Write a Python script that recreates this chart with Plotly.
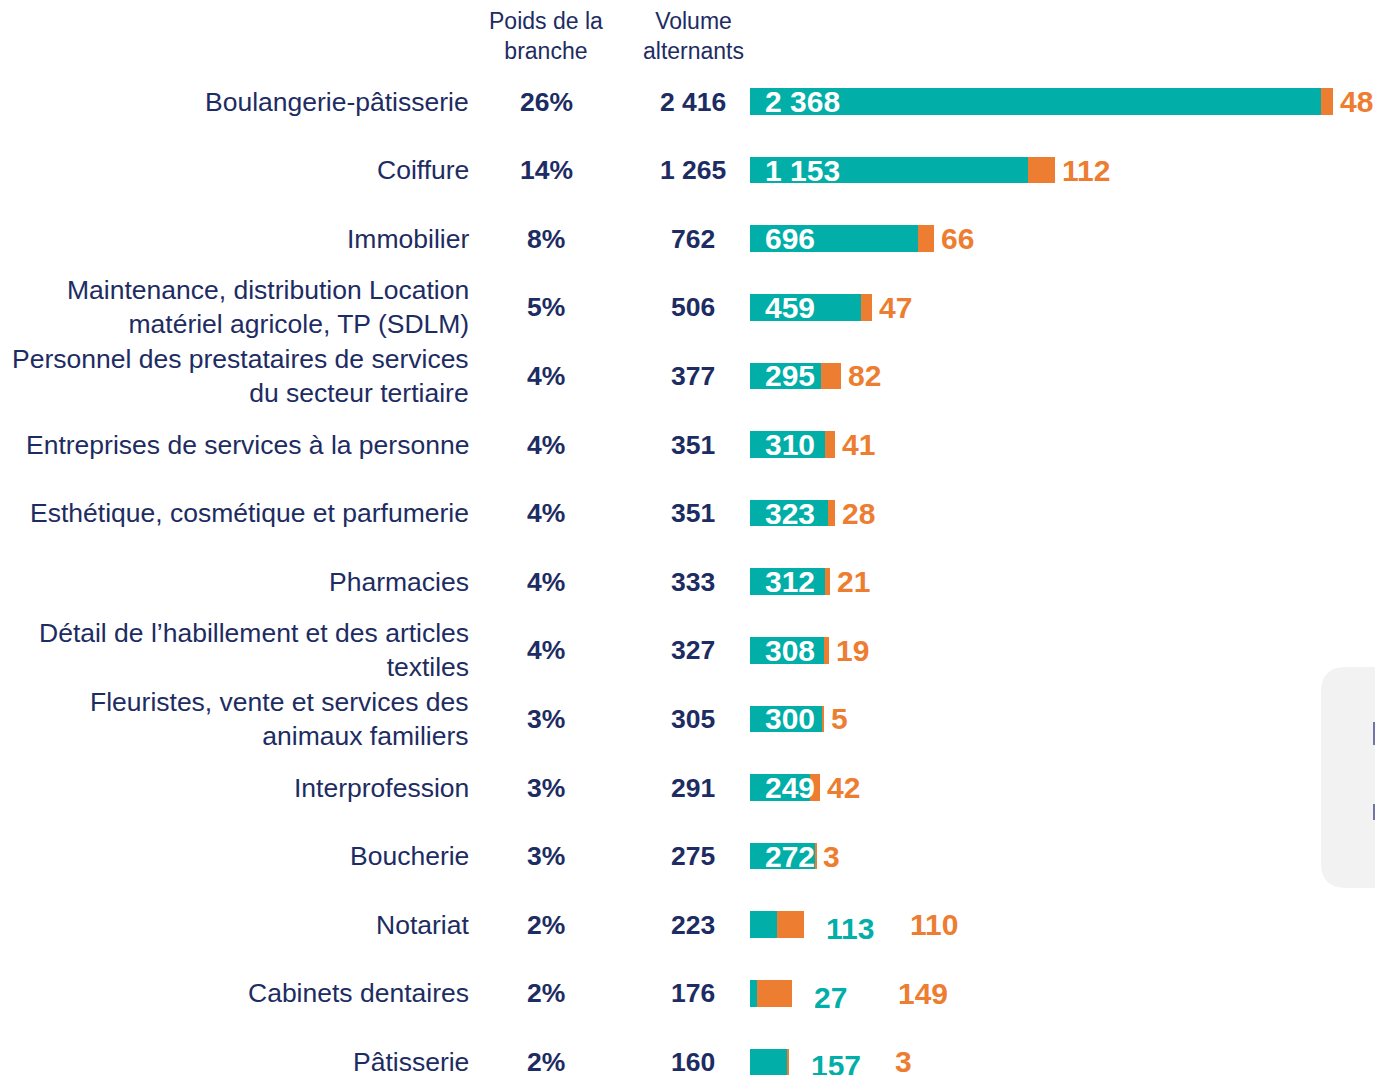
import plotly.graph_objects as go

branches = [
    "Boulangerie-pâtisserie",
    "Coiffure",
    "Immobilier",
    "Maintenance, distribution Location<br>matériel agricole, TP (SDLM)",
    "Personnel des prestataires de services<br>du secteur tertiaire",
    "Entreprises de services à la personne",
    "Esthétique, cosmétique et parfumerie",
    "Pharmacies",
    "Détail de l’habillement et des articles<br>textiles",
    "Fleuristes, vente et services des<br>animaux familiers",
    "Interprofession",
    "Boucherie",
    "Notariat",
    "Cabinets dentaires",
    "Pâtisserie",
]
poids = ["26%", "14%", "8%", "5%", "4%", "4%", "4%", "4%", "4%", "3%", "3%", "3%", "2%", "2%", "2%"]
volume = [2416, 1265, 762, 506, 377, 351, 351, 333, 327, 305, 291, 275, 223, 176, 160]
teal_vals = [2368, 1153, 696, 459, 295, 310, 323, 312, 308, 300, 249, 272, 113, 27, 157]
orange_vals = [48, 112, 66, 47, 82, 41, 28, 21, 19, 5, 42, 3, 110, 149, 3]

TEAL = "#02AEA8"
ORANGE = "#ED7D31"
NAVY = "#1D2C62"
FONT = "Liberation Sans, Arial, sans-serif"


def fmt(v):
    return f"{v:,}".replace(",", " ")


# body margin is removed in the page (post_script below), so figure px == screen px
W, H = 1375, 1075
x0_px = 750
px_per_unit = 0.2412
row0_px = 101.5
row_step = 68.6


def px(sx):
    return sx / W


def py(sy):
    return 1 - sy / H


n = len(branches)
ys = list(range(n))

fig = go.Figure()
fig.add_trace(go.Bar(y=ys, x=teal_vals, orientation="h", marker_color=TEAL,
                     marker_line_width=0, width=0.39, hoverinfo="x"))
fig.add_trace(go.Bar(y=ys, x=orange_vals, orientation="h", marker_color=ORANGE,
                     marker_line_width=0, width=0.39, hoverinfo="x"))

ann = []
# column headers
ann.append(dict(x=px(546), y=py(36), xref="paper", yref="paper", text="Poids de la<br>branche",
                showarrow=False, font=dict(family=FONT, size=23, color=NAVY), xanchor="center", yanchor="middle"))
ann.append(dict(x=px(693), y=py(36), xref="paper", yref="paper", text="Volume<br>alternants",
                showarrow=False, font=dict(family=FONT, size=23, color=NAVY), xanchor="center", yanchor="middle"))

for i in range(n):
    ann.append(dict(x=px(471), y=i, xref="paper", yref="y", text=branches[i], showarrow=False,
                    xanchor="right", yanchor="middle", align="right",
                    font=dict(family=FONT, size=26.5, color=NAVY)))
    ann.append(dict(x=px(546), y=i, xref="paper", yref="y", text=f"<b>{poids[i]}</b>", showarrow=False,
                    xanchor="center", yanchor="middle", font=dict(family=FONT, size=26.5, color=NAVY)))
    ann.append(dict(x=px(693), y=i, xref="paper", yref="y", text=f"<b>{fmt(volume[i])}</b>", showarrow=False,
                    xanchor="center", yanchor="middle", font=dict(family=FONT, size=26.5, color=NAVY)))
    total = teal_vals[i] + orange_vals[i]
    if teal_vals[i] >= 200:
        ann.append(dict(x=0, y=i, xref="x", yref="y", text=f"<b>{fmt(teal_vals[i])}</b>", showarrow=False,
                        xanchor="left", yanchor="middle", xshift=13,
                        font=dict(family=FONT, size=30, color="white")))
        ann.append(dict(x=total, y=i, xref="x", yref="y", text=f"<b>{fmt(orange_vals[i])}</b>", showarrow=False,
                        xanchor="left", yanchor="middle", xshift=5,
                        font=dict(family=FONT, size=30, color=ORANGE)))
    else:
        ann.append(dict(x=total, y=i, xref="x", yref="y", text=f"<b>{fmt(teal_vals[i])}</b>", showarrow=False,
                        xanchor="left", yanchor="middle", xshift=20, yshift=-4,
                        font=dict(family=FONT, size=30, color=TEAL)))
        ann.append(dict(x=total, y=i, xref="x", yref="y", text=f"<b>{fmt(orange_vals[i])}</b>", showarrow=False,
                        xanchor="left", yanchor="middle", xshift=104,
                        font=dict(family=FONT, size=30, color=ORANGE)))

# partially visible legend panel on the right edge
shapes = [
    dict(type="path", xref="paper", yref="paper", layer="below",
         path=(f"M {px(1346)},{py(667)} L 1.05,{py(667)} L 1.05,{py(888)} "
               f"L {px(1346)},{py(888)} Q {px(1321)},{py(888)} {px(1321)},{py(863)} "
               f"L {px(1321)},{py(692)} Q {px(1321)},{py(667)} {px(1346)},{py(667)} Z"),
         fillcolor="#F2F2F2", line=dict(width=0)),
    dict(type="rect", xref="paper", yref="paper", x0=px(1373), x1=px(1376),
         y0=py(745), y1=py(722), fillcolor="#7074A8", line=dict(width=0)),
    dict(type="rect", xref="paper", yref="paper", x0=px(1373), x1=px(1376),
         y0=py(820), y1=py(804), fillcolor="#7074A8", line=dict(width=0)),
]

fig.update_layout(
    width=W, height=H,
    margin=dict(l=0, r=0, t=0, b=0),
    paper_bgcolor="white", plot_bgcolor="white",
    barmode="stack", showlegend=False, bargap=0,
    annotations=ann, shapes=shapes,
    xaxis=dict(domain=[px(x0_px), 1], range=[0, (W - x0_px) / px_per_unit],
               visible=False, fixedrange=True),
    yaxis=dict(range=[(H - row0_px) / row_step, -row0_px / row_step],
               visible=False, fixedrange=True),
)

fig.write_html("out.html", config={"displayModeBar": False},
               post_script="document.body.style.margin='0';document.body.style.overflow='hidden';")
